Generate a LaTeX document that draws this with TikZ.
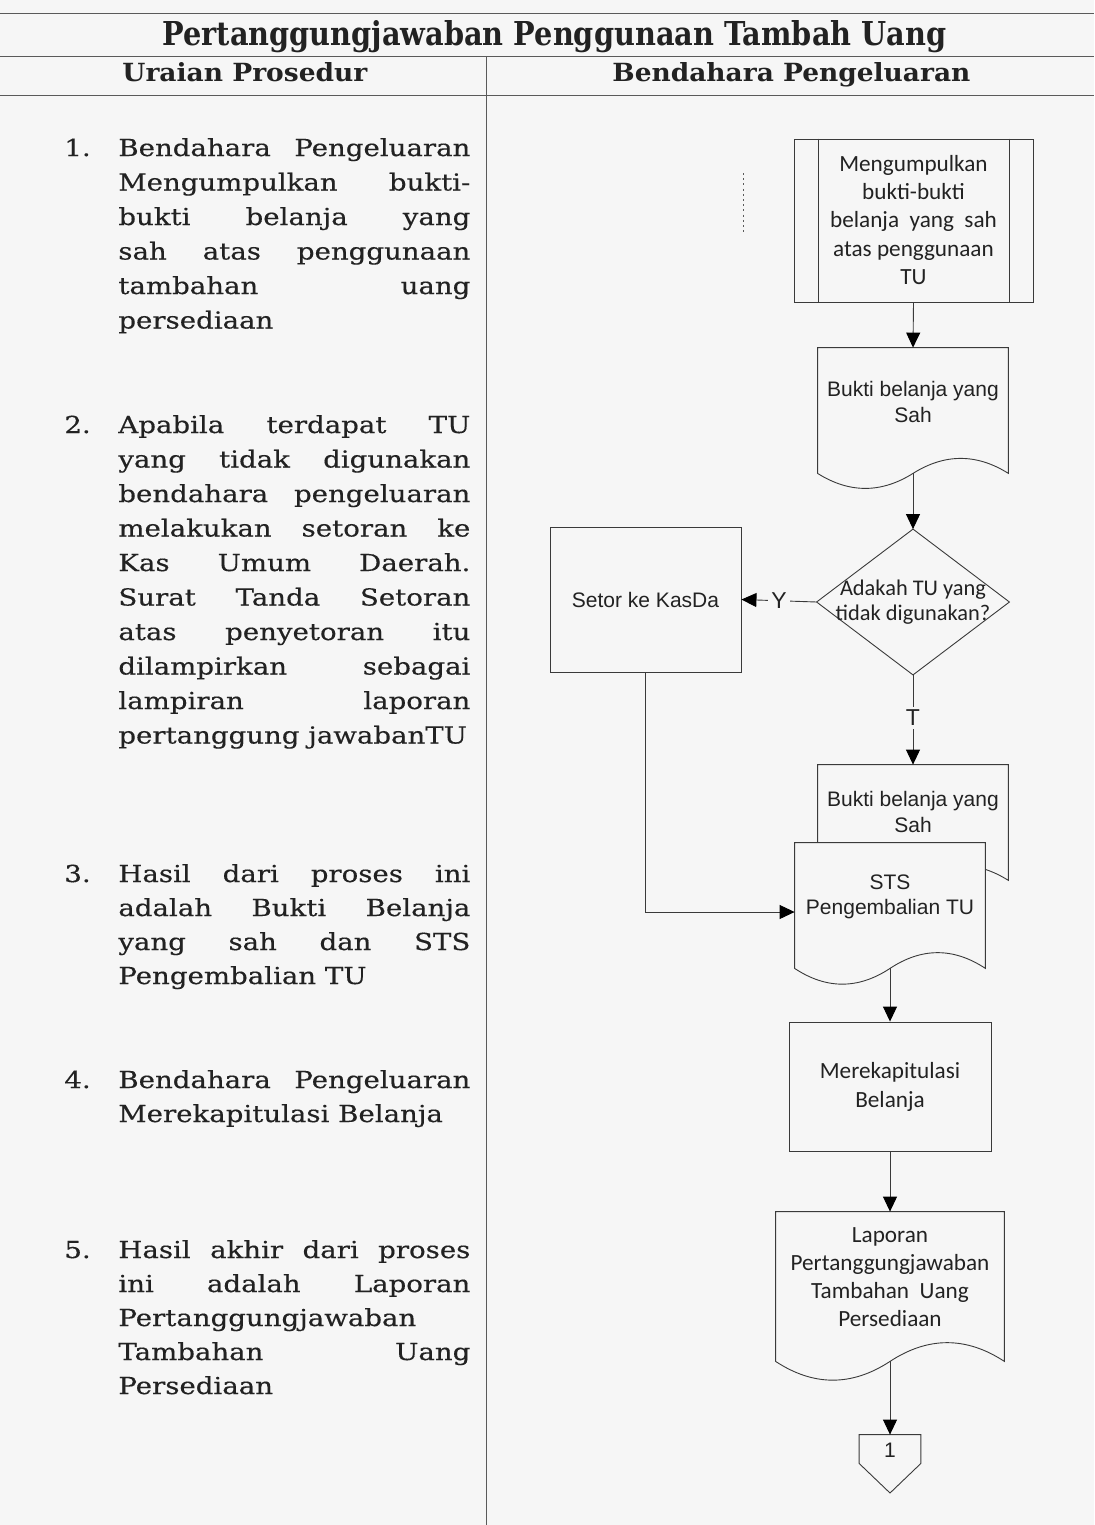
\documentclass[tikz,border=0pt]{standalone}
\usepackage{fontspec}
\usepackage{graphicx}
\usetikzlibrary{calc,arrows.meta}
\setmainfont{DejaVu Serif}
\newfontfamily\bodyserif{DejaVu Serif}[FakeStretch=1.18,FakeBold=0.35]
\newfontfamily\calib{Carlito}
\newfontfamily\arialf{Liberation Sans}
\definecolor{paper}{HTML}{F6F6F6}
\definecolor{ink}{HTML}{222222}
\definecolor{stroke}{HTML}{3A3A3A}
\definecolor{rulegray}{HTML}{5A5A5A}

\tikzset{
  frame/.style={rectangle, inner sep=0pt, draw=none},
  boxed/.style={rectangle, inner sep=0pt, draw=stroke, line width=0.45pt},
  line/.style={draw=stroke, line width=0.45pt},
  flow/.style={draw=stroke, line width=0.45pt, -{Triangle[length=7.5pt,width=7pt,color=black]}},
  ctext/.style={font=\calib\fontsize{11.6}{14.1}\selectfont, align=center, text=ink, inner sep=0pt},
  atext/.style={font=\arialf\fontsize{10.5}{12.8}\selectfont, align=center, text=ink, inner sep=0pt},
  lab/.style={font=\arialf\fontsize{11.5}{12}\selectfont, text=ink, fill=paper, inner sep=1.5pt},
  body/.style={font=\bodyserif\fontsize{11.7}{14}\selectfont, text=ink, anchor=base west, inner sep=0pt},
  head/.style={text=ink, anchor=base west, inner sep=0pt},
}

% document symbol with a wavy lower edge, drawn over a frame node
\newcommand\docoutline[2]{%
  \draw[line, fill=paper]
    (#1.south west) -- (#1.north west) -- (#1.north east) -- (#1.south east)
    .. controls ($(#1.south east)!0.3333!(#1.south)+(0,-#2)$) and ($(#1.south east)!0.6667!(#1.south)+(0,-#2)$) .. (#1.south)
    .. controls ($(#1.south)!0.3333!(#1.south west)+(0,#2)$) and ($(#1.south)!0.6667!(#1.south west)+(0,#2)$) .. cycle;}

% one text line of the procedure column: justified or natural width
\newcommand\jl[3]{\node[body] (#1) at (118,#2) {\makebox[176pt][s]{#3}};}
\newcommand\nl[3]{\node[body] (#1) at (118,#2) {#3};}

\begin{document}
\begin{tikzpicture}[x=0.5pt,y=-0.5pt]
\path[fill=paper] (0,0) rectangle (1094,1525);
\useasboundingbox (0,0) rectangle (1094,1525);

% table frame
\draw[rulegray, line width=0.5pt] (0,14) -- (1094,14);
\draw[rulegray, line width=0.5pt] (0,57) -- (1094,57);
\draw[rulegray, line width=0.5pt] (0,96) -- (1094,96);
\draw[rulegray, line width=0.5pt] (486,57) -- (486,1525);

% headings
\node[head] (title) at (162,46) {\resizebox{392pt}{12.5pt}{\bfseries Pertanggungjawaban Penggunaan Tambah Uang}};
\node[head] (hleft) at (122,82) {\resizebox{122.5pt}{9.5pt}{\bfseries Uraian Prosedur}};
\node[head] (hright) at (612,82) {\resizebox{179pt}{9.5pt}{\bfseries Bendahara Pengeluaran}};

% procedure steps
\node[body] (n1) at (64,156) {1.};
\jl{a1}{156}{Bendahara Pengeluaran}
\jl{a2}{190.5}{Mengumpulkan bukti-}
\jl{a3}{225}{bukti belanja yang}
\jl{a4}{259.5}{sah atas penggunaan}
\jl{a5}{294}{tambahan uang}
\nl{a6}{328.5}{persediaan}

\node[body] (n2) at (64,433) {2.};
\jl{b1}{433}{Apabila terdapat TU}
\jl{b2}{467.5}{yang tidak digunakan}
\jl{b3}{502}{bendahara pengeluaran}
\jl{b4}{536.5}{melakukan setoran ke}
\jl{b5}{571}{Kas Umum Daerah.}
\jl{b6}{605.5}{Surat Tanda Setoran}
\jl{b7}{640}{atas penyetoran itu}
\jl{b8}{674.5}{dilampirkan sebagai}
\jl{b9}{709}{lampiran laporan}
\nl{b10}{743.5}{pertanggung jawabanTU}

\node[body] (n3) at (64,882) {3.};
\jl{c1}{882}{Hasil dari proses ini}
\jl{c2}{916}{adalah Bukti Belanja}
\jl{c3}{950}{yang sah dan STS}
\nl{c4}{984}{Pengembalian TU}

\node[body] (n4) at (64,1088) {4.};
\jl{d1l}{1088}{Bendahara Pengeluaran}
\nl{d2l}{1122}{Merekapitulasi Belanja}

\node[body] (n5) at (64,1258) {5.};
\jl{e1}{1258}{Hasil akhir dari proses}
\jl{e2}{1292}{ini adalah Laporan}
\nl{e3}{1326}{Pertanggungjawaban}
\jl{e4}{1360}{Tambahan Uang}
\nl{e5}{1394}{Persediaan}

% flowchart
\draw[rulegray, line width=0.4pt, dash pattern=on 1pt off 1.6pt] (743,173) -- (743,235);

\node[boxed, minimum width=119.5pt, minimum height=81.5pt] (pp) at (913.5,220.5) {};
\draw[line] ([xshift=12.5pt]pp.north west) -- ([xshift=12.5pt]pp.south west);
\draw[line] ([xshift=-12pt]pp.north east) -- ([xshift=-12pt]pp.south east);
\node[ctext] (ppt) at (913.5,220) {Mengumpulkan\\bukti-bukti\\belanja\ \ yang\ \ sah\\atas penggunaan\\TU};

\node[frame, minimum width=95pt, minimum height=62.5pt] (doc1) at (913,410.5) {};
\docoutline{doc1}{20}
\node[atext] (doc1t) at (913,402) {Bukti belanja yang\\Sah};

\node[frame, minimum width=96pt, minimum height=72.5pt] (dec) at (913,602) {};
\draw[line] (dec.north) -- (dec.east) -- (dec.south) -- (dec.west) -- cycle;
\node[ctext, font=\calib\fontsize{11.2}{12.4}\selectfont] (dect) at (913,602) {Adakah TU yang\\tidak digunakan?};

\node[boxed, minimum width=95.5pt, minimum height=72.5pt] (setor) at (645.5,599.5) {};
\node[atext] (setort) at (645.5,600) {Setor ke KasDa};

\node[frame, minimum width=95pt, minimum height=57.5pt] (doc2) at (913,822.5) {};
\docoutline{doc2}{20}
\node[atext] (doc2t) at (913,812) {Bukti belanja yang\\Sah};

\node[frame, minimum width=95pt, minimum height=62.5pt] (doc3) at (890,905.5) {};
\docoutline{doc3}{21}
\node[atext] (doc3t) at (890,897) {STS\\Pengembalian TU};

\node[boxed, minimum width=101pt, minimum height=64.5pt] (rek) at (890,1086.5) {};
\node[ctext] (rekt) at (890,1087) {Merekapitulasi\\Belanja};

\node[frame, minimum width=114pt, minimum height=74.5pt] (doc4) at (890,1286.5) {};
\docoutline{doc4}{25}
\node[ctext] (doc4t) at (890,1277) {Laporan\\Pertanggungjawaban\\Tambahan\ \ Uang\\Persediaan};

\node[frame, minimum width=30.5pt, minimum height=14pt] (off) at (890,1449) {};
\draw[line] (off.north west) -- (off.north east) -- (off.south east) -- (890,1493) -- (off.south west) -- cycle;
\node[atext] (offt) at (890,1450) {1};

% connectors
\draw[flow] (pp.south) -- (doc1.north);
\draw[flow] (doc1.south) -- (dec.north);
\draw[flow] (dec.west) -- node[lab, pos=0.5] {Y} (setor.east);
\draw[flow] (dec.south) -- node[lab, pos=0.48] {T} (doc2.north);
\draw[flow] (setor.south) |- ([yshift=-3.25pt]doc3.west);
\draw[flow] (doc3.south) -- (rek.north);
\draw[flow] (rek.south) -- (doc4.north);
\draw[flow] (doc4.south) -- (off.north);
\end{tikzpicture}
\end{document}
